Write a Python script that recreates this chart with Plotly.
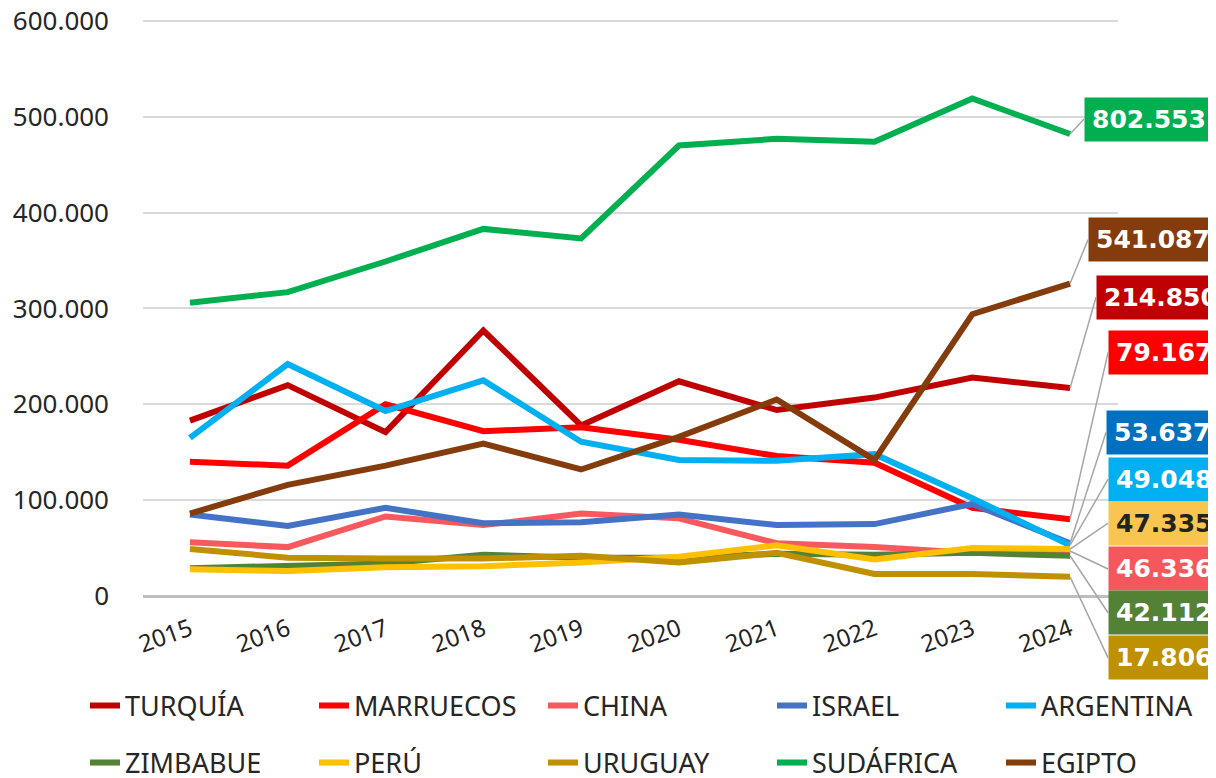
import plotly.graph_objects as go

years = [2015, 2016, 2017, 2018, 2019, 2020, 2021, 2022, 2023, 2024]

turquia = [183000, 220000, 171000, 277000, 178000, 224000, 194000, 207000, 228000, 217000]
marruecos = [140000, 136000, 200000, 172000, 176000, 163000, 146000, 139000, 92000, 80000]
china = [56000, 51000, 83000, 74000, 86000, 81000, 55000, 51000, 45000, 47000]
israel = [85000, 73000, 92000, 76000, 77000, 85000, 74000, 75000, 96000, 55000]
argentina = [165000, 242000, 193000, 225000, 161000, 142000, 141000, 148000, 102000, 53000]
zimbabue = [29000, 31000, 34000, 43000, 40000, 40000, 44000, 43000, 45000, 42000]
peru = [28000, 26000, 30000, 31000, 35000, 41000, 53000, 38000, 50000, 49000]
uruguay = [49000, 40000, 39000, 39000, 42000, 35000, 45000, 23000, 23000, 20000]
sudafrica = [306000, 317000, 349000, 383000, 373000, 470000, 477000, 474000, 519000, 482000]
egipto = [86000, 116000, 136000, 159000, 132000, 166000, 205000, 142000, 294000, 326000]

# series: name, values, line colour, end label, label bg, label text colour, label offset (px)
series = [
    ("TURQUÍA", turquia, "#C00000", "214.850", "#C00000", "white", (26, -91)),
    ("MARRUECOS", marruecos, "#FF0000", "79.167", "#FF0000", "white", (38, -167)),
    ("CHINA", china, "#F8595E", "46.336", "#F4585C", "white", (38, 18)),
    ("ISRAEL", israel, "#4472C4", "53.637", "#0070C0", "white", (36, -111)),
    ("ARGENTINA", argentina, "#00B0F0", "49.048", "#00B0F0", "white", (38, -66)),
    ("ZIMBABUE", zimbabue, "#548235", "42.112", "#548235", "white", (38, 57)),
    ("PERÚ", peru, "#FFC000", "47.335", "#FAC54F", "#222222", (38, -26)),
    ("URUGUAY", uruguay, "#BF9000", "17.806", "#BF9000", "white", (38, 81)),
    ("SUDÁFRICA", sudafrica, "#00B050", "802.553", "#00B050", "white", (14, -15)),
    ("EGIPTO", egipto, "#843C0C", "541.087", "#843C0C", "white", (18, -44)),
]

# the page adds an 8px body margin, so the figure is drawn 8px smaller
W, H = 1208, 770

fig = go.Figure()
annotations = []
legends = {}
for i, (name, vals, color, lab, bg, fc, (ax, ay)) in enumerate(series):
    key = "legend" if i == 0 else f"legend{i + 1}"
    fig.add_trace(go.Scatter(
        x=years, y=vals, name=name, mode="lines",
        line=dict(color=color, width=6),
        legend=key,
    ))
    # one small legend per entry so the 2x5 grid can be placed like the original
    col, row = i % 5, i // 5
    legends[key] = dict(
        xref="container", yref="container",
        x=(77 + col * 229) / W, y=1 - (698 + row * 57) / H,
        xanchor="left", yanchor="middle", orientation="h",
        font=dict(family="Noto Sans", size=27, color="#262626"),
        bgcolor="rgba(0,0,0,0)",
    )
    annotations.append(dict(
        x=years[-1], y=vals[-1], text=lab, showarrow=True, arrowhead=0,
        arrowcolor="#A6A6A6", arrowwidth=1.5, ax=ax, ay=ay, standoff=0,
        xanchor="left", bgcolor=bg, borderpad=7,
        font=dict(family="DejaVu Sans", size=25, color=fc, weight="bold"),
    ))

annotations.append(dict(
    x=0.47, y=1.0, xref="paper", yref="paper", text="(t)", showarrow=False,
    yanchor="bottom", yshift=20,
    font=dict(family="Noto Sans", size=22, color="#0070C0"),
))

fig.update_layout(
    width=W, height=H,
    margin=dict(l=135, r=98, t=11, b=182, autoexpand=False),
    plot_bgcolor="white", paper_bgcolor="white",
    separators=",.",
    showlegend=True,
    annotations=annotations,
    xaxis=dict(
        range=[2014.52, 2024.49], tickvals=years, tickangle=-20,
        showgrid=False, zeroline=False, showline=False, ticks="",
        ticklabelstandoff=14,
        tickfont=dict(family="Noto Sans", size=24, color="#222222"),
    ),
    yaxis=dict(
        range=[0, 602000], tickvals=[0, 100000, 200000, 300000, 400000, 500000, 600000],
        tickformat=",d", ticklabeloverflow="allow",
        showgrid=True, gridcolor="#D9D9D9", gridwidth=2,
        zeroline=True, zerolinecolor="#BFBFBF", zerolinewidth=2.5,
        ticks="", ticklabelstandoff=33,
        tickfont=dict(family="Noto Sans", size=26, color="#262626"),
    ),
    **legends,
)

fig.write_html("out.html")
